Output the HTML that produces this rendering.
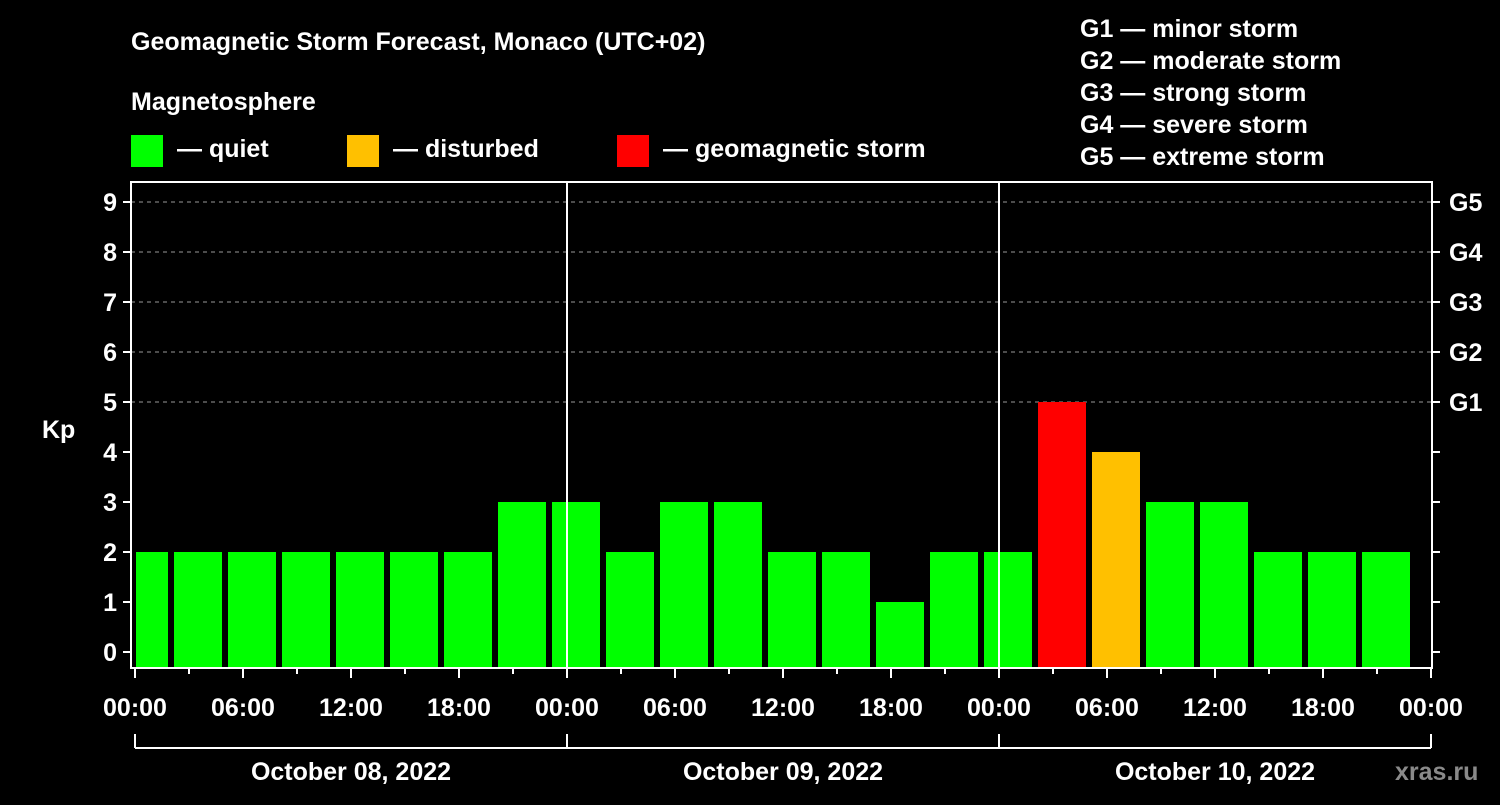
<!DOCTYPE html>
<html><head><meta charset="utf-8"><style>
body{margin:0;background:#000;}
svg text{font-family:"Liberation Sans",Arial,sans-serif;font-weight:bold;fill:#fff;}
</style></head><body>
<svg width="1500" height="800" viewBox="0 0 1500 800" xmlns="http://www.w3.org/2000/svg">
<rect width="1500" height="800" fill="#000"/>
<text x="131" y="50" font-size="25">Geomagnetic Storm Forecast, Monaco (UTC+02)</text>
<text x="131" y="110" font-size="25">Magnetosphere</text>
<g>
<rect x="131" y="135" width="32" height="32" fill="#00ff00"/><text x="177" y="157" font-size="25">— quiet</text>
<rect x="347" y="135" width="32" height="32" fill="#ffc000"/><text x="393" y="157" font-size="25">— disturbed</text>
<rect x="617" y="135" width="32" height="32" fill="#ff0000"/><text x="663" y="157" font-size="25">— geomagnetic storm</text>
</g>
<g font-size="25">
<text x="1080" y="37">G1 — minor storm</text>
<text x="1080" y="69">G2 — moderate storm</text>
<text x="1080" y="101">G3 — strong storm</text>
<text x="1080" y="133">G4 — severe storm</text>
<text x="1080" y="165">G5 — extreme storm</text>
</g>
<text x="42" y="438" font-size="25">Kp</text>
<text x="1395" y="780" font-size="25" fill="#888" style="fill:#8a8a8a">xras.ru</text>
<g id="grid"></g>
<g id="bars"></g>
<g id="axes"></g>
</svg>
<script>
const values=[2,2,2,2,2,2,2,3,3,2,3,3,2,2,1,2,2,5,4,3,3,2,2,2];
const kpTicks=[0,1,2,3,4,5,6,7,8,9];
const gLabels=["G1","G2","G3","G4","G5"];
const hourLabels=["00:00","06:00","12:00","18:00","00:00","06:00","12:00","18:00","00:00","06:00","12:00","18:00","00:00"];
const dayLabels=["October 08, 2022","October 09, 2022","October 10, 2022"];
const NS="http://www.w3.org/2000/svg";
const X0=135,PXH=18,L=131,R=1432,T=182,B=668;
const xs=h=>X0+h*PXH, ys=v=>652-50*v;
function mk(t,a,p){const e=document.createElementNS(NS,t);for(const k in a)e.setAttribute(k,a[k]);(p||document.querySelector('svg')).appendChild(e);return e;}
const grid=document.getElementById('grid'),bars=document.getElementById('bars'),axes=document.getElementById('axes');
for(let v=5;v<=9;v++){const l=mk('line',{x1:L,x2:R,y1:ys(v),y2:ys(v),stroke:'#999','stroke-dasharray':'4,4','stroke-width':1},grid);

}
values.forEach((v,i)=>{const c=i*3+0.5;let x1=xs(c)-24,x2=xs(c)+24;x1=Math.max(x1,L+5);x2=Math.min(x2,R-2);
const col=v>=5?'#ff0000':(v>=4?'#ffc000':'#00ff00');
const r=mk('rect',{x:x1,y:ys(v),width:x2-x1,height:B-ys(v),fill:col},bars);

});
[1,2].forEach(d=>{const l=mk('line',{x1:xs(d*24),x2:xs(d*24),y1:T,y2:B,stroke:'#fff','stroke-width':2},axes);

});
const fr=mk('rect',{x:L,y:T,width:R-L,height:B-T,fill:'none',stroke:'#fff','stroke-width':2},axes);


kpTicks.forEach(v=>{mk('line',{x1:L-8,x2:L,y1:ys(v),y2:ys(v),stroke:'#fff','stroke-width':2},axes);
mk('line',{x1:R,x2:R+8,y1:ys(v),y2:ys(v),stroke:'#fff','stroke-width':2},axes);
const t=mk('text',{x:L-14,y:ys(v)+9,'font-size':25,'text-anchor':'end'},axes);t.textContent=v;

});
gLabels.forEach((g,i)=>{const t=mk('text',{x:1449,y:ys(i+5)+9,'font-size':25},axes);t.textContent=g;

});
for(let h=0;h<=72;h+=3){mk('line',{x1:xs(h),x2:xs(h),y1:B,y2:B+(h%6==0?10:6),stroke:'#fff','stroke-width':2},axes);}
hourLabels.forEach((s,i)=>{const t=mk('text',{x:xs(i*6),y:716,'font-size':25,'text-anchor':'middle'},axes);t.textContent=s;

});
mk('line',{x1:xs(0),x2:xs(72),y1:748,y2:748,stroke:'#fff','stroke-width':2},axes);
for(let d=0;d<=3;d++)mk('line',{x1:xs(d*24),x2:xs(d*24),y1:734,y2:748,stroke:'#fff','stroke-width':2},axes);
dayLabels.forEach((s,i)=>{const t=mk('text',{x:xs(i*24+12),y:780,'font-size':25,'text-anchor':'middle'},axes);t.textContent=s;

});
</script>
</body></html>
